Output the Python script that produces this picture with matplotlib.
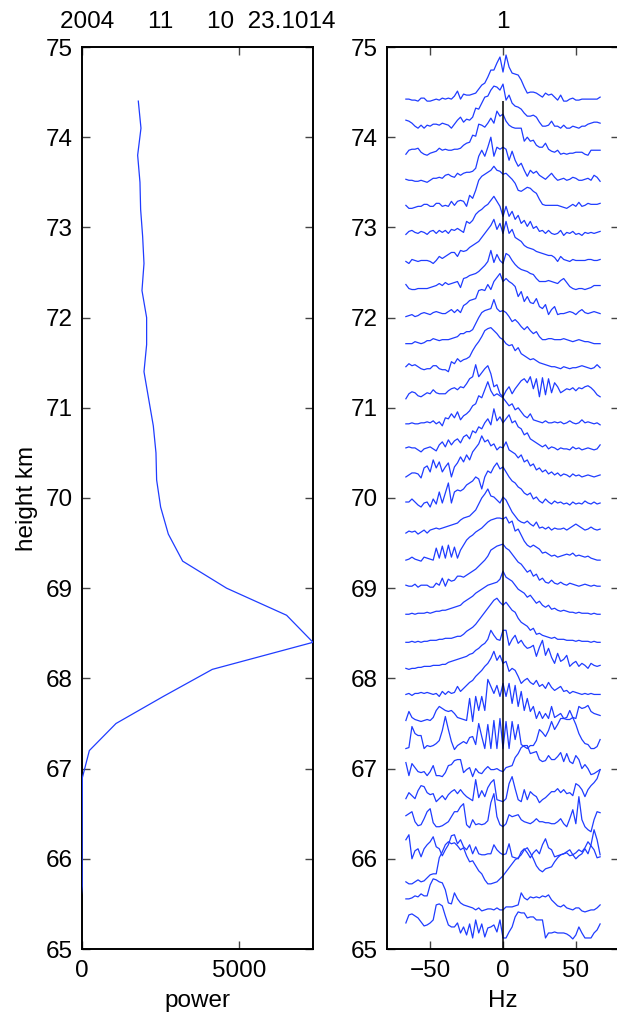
import numpy as np
import matplotlib
matplotlib.use('Agg')
import matplotlib.pyplot as plt

plt.rcParams['font.family'] = ['Liberation Sans', 'DejaVu Sans']
plt.rcParams['font.size'] = 17.5

# run header: year, month, day, decimal hour / record number
title_left = '2004     11     10  23.1014'
title_right = '1'

# range gates (km), top to bottom
heights = [74.4, 74.1, 73.8, 73.5, 73.2, 72.9, 72.6, 72.3, 72.0, 71.7, 71.4,
           71.1, 70.8, 70.5, 70.2, 69.9, 69.6, 69.3, 69.0, 68.7, 68.4, 68.1,
           67.8, 67.5, 67.2, 66.9, 66.6, 66.3, 66.0, 65.7, 65.4, 65.1]

# total echo power per gate (noise-subtracted, so the lowest gates go negative)
power = [1794, 1879, 1773, 1847, 1868, 1932, 1975, 1911, 2059, 2059, 1975,
         2123, 2272, 2357, 2378, 2505, 2750, 3207, 4608, 6519, 7360, 4151,
         2590, 1083, 234, 12, 8, 5, 4, 6, -70, -90]

# Doppler frequency bins (Hz)
freq = np.arange(-32, 33) * 2.08

# normalised spectra, one row per gate (peak ~45 units)
spectra = [
    [2, 2, 1, 1, 0, 3, 3, 0, 0, 1, 2, 1, 3, 2, 3, 2, 5, 10, 2, 7, 6, 6, 7, 8, 12, 16,
     18, 24, 31, 31, 38, 44, 29, 46, 34, 28, 27, 26, 21, 14, 8, 9, 9, 8, 6, 4, 8, 6, 7, 4, 1, 6,
     0, 0, 2, 3, 1, 1, 2, 2, 2, 2, 2, 2, 4],
    [8, 7, 5, 2, 0, 3, 0, 3, 2, 4, 4, 3, 5, 4, 3, 0, 4, 8, 11, 6, 9, 8, 11, 20, 19, 25,
     31, 32, 38, 42, 41, 38, 44, 28, 33, 25, 22, 21, 19, 15, 12, 12, 13, 11, 6, 2, 2, 3, 7, 2, 2, 0,
     3, 0, 0, 2, 1, 0, 2, 2, 4, 5, 6, 6, 5],
    [1, 5, 6, 6, 7, 3, 1, 0, 2, 3, 4, 7, 5, 6, 5, 5, 6, 6, 7, 10, 12, 13, 20, 19, 31, 30,
     28, 32, 37, 32, 44, 39, 41, 34, 30, 28, 27, 27, 27, 14, 18, 14, 15, 10, 8, 8, 12, 6, 4, 3, 5, 1,
     2, 1, 2, 2, 3, 3, 3, 1, 0, 5, 5, 5, 5],
    [3, 2, 2, 1, 1, 2, 1, 0, 2, 4, 4, 5, 4, 7, 8, 6, 5, 9, 7, 9, 10, 10, 11, 14, 26, 32,
     26, 35, 45, 26, 35, 33, 35, 33, 22, 31, 22, 16, 19, 12, 6, 12, 9, 11, 7, 5, 3, 6, 9, 5, 2, 3,
     4, 2, 3, 5, 4, 2, 2, 3, 4, 2, 7, 5, 1],
    [4, 1, 1, 2, 3, 3, 5, 5, 3, 3, 6, 6, 3, 4, 3, 8, 4, 8, 9, 8, 3, 14, 11, 19, 29, 33,
     35, 37, 39, 43, 39, 38, 35, 36, 33, 30, 26, 19, 18, 20, 22, 21, 18, 16, 10, 5, 4, 4, 4, 4, 4, 3,
     2, 1, 3, 5, 3, 7, 3, 4, 6, 5, 5, 5, 6],
    [2, 5, 6, 4, 3, 5, 4, 2, 5, 6, 3, 6, 4, 6, 3, 7, 6, 8, 6, 4, 15, 13, 16, 22, 25, 27,
     30, 32, 36, 40, 35, 30, 20, 30, 20, 25, 17, 21, 13, 16, 10, 15, 8, 10, 5, 6, 3, 6, 3, 2, 3, 6,
     1, 4, 3, 5, 2, 3, 1, 4, 3, 4, 3, 4, 5],
    [2, 0, 4, 3, 2, 3, 3, 3, 2, 0, 3, 7, 5, 7, 9, 11, 11, 7, 13, 12, 13, 16, 18, 20, 22, 26,
     30, 34, 38, 44, 34, 40, 30, 42, 30, 34, 26, 24, 22, 18, 16, 15, 14, 12, 11, 10, 9, 8, 8, 6, 2, 7,
     4, 3, 2, 4, 3, 3, 3, 3, 4, 4, 3, 3, 4],
    [6, 2, 1, 1, 2, 2, 2, 2, 3, 4, 5, 7, 5, 8, 6, 7, 8, 9, 3, 12, 13, 15, 16, 17, 19, 22,
     25, 29, 40, 28, 36, 30, 27, 37, 35, 30, 26, 23, 21, 20, 19, 17, 16, 12, 9, 9, 9, 10, 9, 8, 7, 10,
     12, 8, 4, 2, 1, 2, 2, 1, 2, 3, 5, 5, 5],
    [1, 2, 3, 1, 2, 4, 5, 4, 3, 5, 6, 5, 4, 4, 6, 8, 5, 8, 5, 12, 14, 17, 18, 19, 27, 28,
     27, 33, 28, 36, 40, 44, 36, 39, 36, 34, 31, 21, 26, 16, 21, 15, 14, 19, 11, 9, 13, 3, 8, 11, 3, 4,
     4, 5, 6, 5, 3, 6, 8, 5, 4, 5, 6, 5, 4],
    [1, 1, 1, 3, 2, 1, 2, 4, 4, 6, 5, 4, 5, 5, 5, 6, 7, 8, 11, 11, 13, 13, 15, 21, 27, 32,
     34, 35, 36, 45, 36, 33, 34, 32, 28, 23, 25, 22, 18, 15, 18, 14, 11, 13, 8, 5, 5, 6, 6, 5, 5, 5,
     6, 5, 4, 3, 4, 5, 4, 3, 3, 2, 1, 1, 1],
    [5, 8, 6, 7, 5, 3, 2, 3, 3, 6, 6, 3, 2, 2, 0, 10, 8, 13, 10, 12, 13, 15, 21, 26, 30, 35,
     41, 43, 44, 41, 38, 34, 32, 28, 26, 27, 21, 24, 18, 16, 14, 12, 13, 11, 9, 8, 7, 6, 5, 5, 4, 3,
     5, 4, 3, 4, 4, 5, 6, 5, 4, 3, 4, 7, 4],
    [0, 5, 7, 6, 3, 2, 4, 6, 5, 9, 6, 5, 5, 5, 8, 10, 11, 9, 12, 11, 15, 20, 22, 34, 22, 26,
     30, 33, 25, 12, 14, 5, 2, 8, 12, 5, 10, 14, 18, 20, 16, 22, 10, 20, 2, 21, 4, 20, 6, 16, 12, 6,
     8, 10, 9, 11, 8, 11, 10, 12, 13, 11, 8, 4, 2],
    [2, 2, 3, 2, 2, 3, 3, 4, 3, 5, 2, 4, 0, 8, 7, 12, 8, 14, 6, 10, 12, 15, 20, 22, 30, 28,
     36, 44, 35, 30, 32, 30, 28, 24, 20, 22, 16, 18, 14, 10, 8, 12, 6, 5, 4, 3, 5, 3, 3, 4, 3, 4,
     2, 3, 5, 3, 2, 3, 6, 3, 4, 3, 2, 3, 1],
    [5, 6, 5, 5, 3, 1, 4, 5, 6, 4, 2, 8, 11, 6, 13, 8, 12, 14, 10, 16, 18, 14, 22, 20, 26, 24,
     30, 34, 28, 44, 32, 36, 30, 34, 38, 30, 32, 26, 24, 18, 20, 14, 12, 10, 8, 6, 8, 4, 6, 5, 3, 5,
     4, 4, 3, 6, 4, 5, 3, 4, 5, 4, 3, 4, 8],
    [3, 5, 7, 7, 6, 2, 12, 14, 8, 20, 12, 18, 8, 13, 17, 3, 13, 17, 23, 18, 25, 20, 28, 32, 36, 44,
     38, 40, 34, 36, 30, 33, 32, 38, 30, 28, 26, 22, 25, 18, 20, 14, 16, 10, 12, 8, 10, 6, 8, 5, 7, 4,
     6, 5, 3, 6, 4, 5, 3, 4, 5, 4, 3, 4, 5],
    [5, 5, 8, 5, 2, 0, 4, 5, 0, 8, 3, 15, 4, 14, 24, 4, 15, 17, 16, 18, 22, 24, 26, 30, 28, 18,
     30, 36, 34, 40, 44, 38, 40, 35, 30, 26, 24, 20, 18, 14, 12, 14, 8, 10, 6, 4, 8, 5, 3, 6, 4, 5,
     3, 4, 2, 5, 3, 4, 3, 6, 4, 3, 5, 3, 4],
    [1, 3, 2, 3, 0, 2, 4, 1, 4, 5, 6, 5, 6, 7, 8, 9, 10, 11, 14, 16, 17, 18, 21, 24, 30, 36,
     40, 45, 38, 37, 34, 31, 37, 34, 28, 22, 18, 14, 12, 11, 13, 10, 8, 12, 6, 7, 5, 7, 4, 6, 5, 5,
     6, 4, 6, 8, 10, 8, 6, 4, 5, 7, 5, 4, 5],
    [1, 2, 4, 2, 1, 0, 4, 3, 2, 1, 13, 3, 15, 3, 16, 4, 14, 3, 11, 16, 21, 24, 26, 29, 31, 33,
     36, 39, 41, 42, 43, 43, 42, 44, 38, 40, 30, 32, 26, 20, 16, 14, 16, 14, 12, 8, 9, 7, 5, 6, 4, 5,
     6, 7, 6, 8, 5, 6, 5, 4, 5, 3, 2, 1, 1],
    [3, 2, 2, 4, 1, 3, 3, 3, 1, 1, 5, 3, 10, 2, 9, 7, 8, 12, 12, 11, 13, 15, 17, 19, 22, 25,
     28, 32, 38, 40, 42, 43, 44, 40, 38, 34, 30, 26, 24, 20, 16, 18, 12, 14, 8, 10, 6, 5, 8, 5, 4, 6,
     4, 3, 5, 4, 3, 2, 3, 4, 3, 2, 3, 2, 2],
    [1, 1, 2, 1, 2, 2, 2, 3, 2, 3, 4, 4, 5, 5, 6, 7, 8, 9, 10, 13, 15, 17, 19, 22, 24, 26,
     28, 30, 31, 32, 33, 36, 44, 38, 36, 34, 30, 26, 24, 22, 18, 20, 16, 12, 14, 10, 8, 10, 6, 7, 5, 4,
     5, 4, 3, 3, 2, 3, 2, 2, 2, 1, 2, 1, 1],
    [0, 0, 1, 0, 1, 0, 1, 1, 2, 2, 2, 3, 3, 4, 4, 4, 5, 6, 6, 8, 11, 13, 15, 18, 22, 26,
     30, 34, 38, 42, 44, 40, 37, 40, 36, 32, 30, 24, 20, 18, 16, 12, 14, 8, 9, 7, 6, 5, 4, 5, 3, 3,
     3, 2, 2, 2, 1, 2, 1, 1, 1, 0, 1, 0, 0],
    [1, 0, 1, 1, 2, 2, 3, 3, 3, 4, 4, 4, 5, 5, 7, 8, 9, 10, 11, 12, 13, 15, 16, 19, 21, 24,
     26, 30, 39, 34, 30, 29, 39, 39, 24, 30, 34, 26, 29, 24, 21, 22, 24, 13, 22, 29, 14, 21, 12, 6, 16, 8,
     10, 14, 3, 6, 8, 3, 6, 4, 1, 6, 4, 3, 4],
    [2, 3, 1, 3, 3, 4, 3, 4, 3, 2, 3, 0, 5, 2, 5, 3, 4, 10, 5, 8, 11, 14, 16, 20, 23, 26,
     30, 33, 38, 45, 36, 41, 33, 35, 25, 28, 26, 20, 13, 16, 18, 14, 12, 16, 10, 12, 8, 14, 9, 6, 8, 10,
     5, 6, 3, 5, 4, 3, 2, 3, 2, 3, 2, 2, 2],
    [3, 12, 6, 4, 3, 2, 3, 4, 3, 6, 13, 17, 15, 13, 12, 13, 10, 6, 5, 4, 3, 25, 2, 27, 13, 27,
     13, 44, 37, 30, 38, 27, 40, 27, 40, 20, 38, 17, 32, 13, 25, 12, 17, 5, 12, 5, 10, 5, 17, 6, 8, 10,
     5, 6, 13, 6, 5, 17, 15, 16, 18, 12, 10, 9, 8],
    [2, 3, 24, 17, 15, 15, 2, 5, 4, 5, 7, 10, 20, 34, 21, 9, 1, 5, 7, 9, 7, 13, 14, 6, 27, 14,
     2, 26, 2, 30, 2, 32, 2, 29, 2, 29, 11, 26, 6, 4, 2, 5, 5, 10, 21, 18, 14, 20, 29, 21, 26, 32,
     32, 31, 31, 33, 26, 17, 11, 7, 6, 2, 2, 4, 11],
    [15, 2, 14, 10, 6, 5, 6, 2, 6, 12, 2, 2, 1, 5, 12, 13, 17, 18, 18, 5, 8, 10, 1, 9, 5, 4,
     8, 11, 8, 8, 9, 7, 6, 10, 11, 12, 20, 24, 30, 32, 32, 24, 25, 26, 18, 16, 17, 22, 18, 18, 21, 25,
     16, 24, 16, 14, 22, 18, 9, 13, 9, 3, 4, 6, 8],
    [6, 12, 9, 6, 14, 19, 18, 12, 10, 11, 3, 6, 9, 5, 10, 13, 15, 11, 15, 11, 8, 6, 4, 25, 7, 14,
     8, 17, 22, 25, 5, 4, 3, 6, 21, 28, 16, 5, 3, 15, 5, 13, 10, 8, 2, 5, 7, 10, 13, 13, 16, 12,
     15, 11, 12, 9, 21, 19, 15, 8, 15, 19, 22, 26, 35],
    [16, 18, 20, 10, 6, 7, 13, 20, 23, 9, 5, 5, 6, 8, 10, 15, 20, 20, 25, 28, 7, 4, 12, 7, 8, 7,
     8, 11, 29, 38, 15, 7, 5, 8, 17, 15, 16, 17, 12, 10, 9, 8, 10, 13, 10, 10, 9, 9, 8, 8, 10, 13,
     8, 5, 13, 22, 8, 35, 12, 5, 2, 0, 12, 20, 19],
    [19, 24, 0, 8, 10, 2, 10, 14, 17, 22, 12, 10, 3, 9, 14, 23, 24, 15, 19, 12, 9, 14, 5, 12, 5, 4,
     4, 5, 5, 14, 9, 6, 4, 5, 15, 2, 1, 0, 7, 10, 6, 1, 6, 9, 5, 14, 20, 11, 9, 2, 3, 4,
     5, 7, 9, 4, 0, 3, 5, 10, 5, 14, 29, 19, 4],
    [4, 2, 2, 4, 6, 4, 5, 8, 11, 12, 12, 28, 34, 41, 44, 42, 43, 40, 36, 38, 30, 24, 25, 20, 15, 12,
     6, 2, 2, 3, 4, 7, 10, 14, 18, 22, 26, 28, 31, 36, 38, 33, 27, 20, 16, 14, 17, 18, 19, 24, 28, 31,
     32, 33, 30, 31, 33, 36, 34, 38, 44, 40, 36, 28, 29],
    [14, 14, 15, 17, 16, 19, 17, 17, 28, 34, 33, 31, 30, 23, 10, 9, 20, 14, 10, 8, 7, 6, 5, 3, 5, 2,
     3, 4, 4, 3, 5, 3, 3, 6, 6, 6, 7, 8, 20, 15, 13, 16, 15, 16, 15, 17, 16, 18, 13, 10, 7, 6,
     8, 5, 4, 3, 5, 5, 2, 1, 2, 3, 3, 5, 8],
    [17, 25, 26, 24, 22, 18, 14, 15, 17, 20, 35, 36, 34, 24, 15, 13, 13, 17, 7, 13, 5, 16, 2, 20, 7, 16,
     3, 12, 13, 15, 8, 20, 2, 2, 8, 13, 23, 28, 27, 27, 22, 23, 23, 20, 20, 20, 2, 7, 7, 8, 7, 7,
     7, 6, 4, 1, 5, 13, 7, 2, 2, 2, 7, 10, 16],
]

bad = [k for k, s in enumerate(spectra) if len(s) != len(freq)]
assert not bad, f'spectrum length mismatch at rows {bad}'

BLUE = '#1f3cff'
SPEC_SCALE = 0.5 / 45   # km of vertical offset per spectral unit
YMIN, YMAX = 65, 75

fig = plt.figure(figsize=(6.17, 10.18), dpi=100)
W, H = 617.0, 1018.0
ax1 = fig.add_axes([82 / W, 1 - 949 / H, 231 / W, 902 / H])
ax2 = fig.add_axes([387 / W, 1 - 949 / H, 232 / W, 902 / H])

for ax in (ax1, ax2):
    ax.tick_params(direction='in', length=6, width=1.0, color='#444444',
                   top=True, right=True)
    ax.tick_params(axis='x', pad=8)
    ax.tick_params(axis='y', pad=6.5)
    for sp in ax.spines.values():
        sp.set_linewidth(1.4)
    ax.set_ylim(YMIN, YMAX)
    ax.set_yticks(np.arange(YMIN, YMAX + 1, 1))

# left: power profile (drawn over the spine where it sits at zero)
ax1.plot(power, heights, color=BLUE, lw=0.9, zorder=3)
ax1.set_xlim(0, max(power))
ax1.set_xticks([0, 5000])
ax1.set_xlabel('power', labelpad=5.5)
ax1.set_ylabel('height km', labelpad=6)
ax1.set_title(title_left, pad=14, fontsize=17.5)

# right: stacked spectra, each offset to its gate height
for h, s in zip(heights, spectra):
    ax2.plot(freq, h + np.asarray(s) * SPEC_SCALE, color=BLUE, lw=0.9)
ax2.vlines(0, YMIN, heights[0], color='k', lw=1.1)
ax2.set_xlim(-79.5, 79.5)
ax2.set_xticks([-50, 0, 50])
ax2.set_xlabel('Hz', labelpad=5.5)
ax2.set_title(title_right, pad=14, fontsize=17.5)

fig.savefig('out.png', dpi=100)
